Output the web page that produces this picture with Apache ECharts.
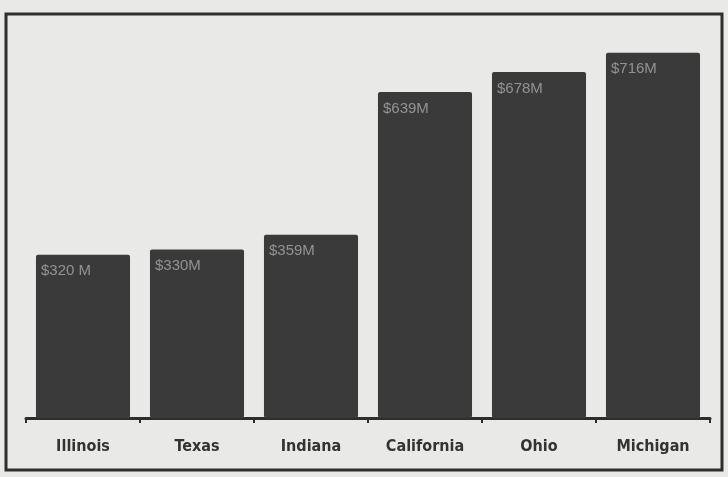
<!DOCTYPE html>
<html>
<head>
<meta charset="utf-8">
<script src="https://cdn.jsdelivr.net/npm/echarts@6/dist/echarts.min.js"></script>
<style>
  html, body { margin: 0; padding: 0; background: #e9e9e7; }
  #chart { width: 728px; height: 477px; }
</style>
</head>
<body>
<div id="chart"></div>
<script>
const states = ['Illinois', 'Texas', 'Indiana', 'California', 'Ohio', 'Michigan']
const amounts = [320, 330, 359, 639, 678, 716]
const amountLabels = ['$320 M', '$330M', '$359M', '$639M', '$678M', '$716M']

const chart = echarts.init(document.getElementById('chart'))

chart.setOption({
  backgroundColor: '#e9e9e7',
  animation: false,
  grid: { left: 26, right: 18, top: 20, bottom: 59 },
  graphic: [
    {
      type: 'rect',
      shape: { x: 6, y: 14, width: 716, height: 456 },
      style: { fill: 'none', stroke: '#2e2e2e', lineWidth: 3 },
      z: 10,
    },
  ],
  xAxis: {
    type: 'category',
    data: states,
    axisLine: { lineStyle: { color: '#2e2e2e', width: 3 } },
    axisTick: { show: true, length: 5, lineStyle: { color: '#2e2e2e', width: 2 } },
    axisLabel: {
      color: '#333',
      fontFamily: 'DejaVu Sans Condensed',
      fontWeight: 'bold',
      fontSize: 16,
      margin: 21,
    },
  },
  yAxis: {
    type: 'value',
    min: 0,
    max: 780,
    show: false,
    splitLine: { show: false },
  },
  series: [
    {
      type: 'bar',
      data: amounts,
      barCategoryGap: '17.5%',
      itemStyle: { color: '#3a3a3a', borderRadius: 2 },
      label: {
        show: true,
        position: 'insideTopLeft',
        offset: [0, 4],
        color: '#939393',
        fontFamily: 'Liberation Sans',
        fontSize: 15,
        formatter: (p) => amountLabels[p.dataIndex],
      },
    },
  ],
})
</script>
</body>
</html>
